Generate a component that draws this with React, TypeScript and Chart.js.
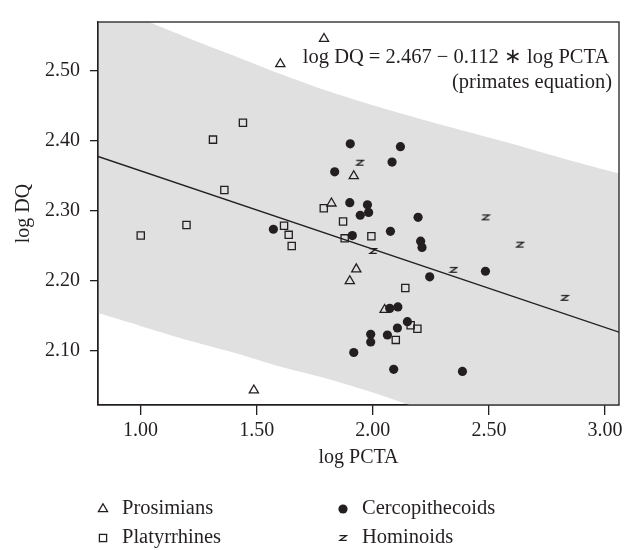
import React, { useEffect, useRef } from 'react';
import { Chart, registerables } from 'chart.js';

Chart.register(...registerables);

// ---- axes ----
const X_TICKS = [1.0, 1.5, 2.0, 2.5, 3.0];
const Y_TICKS = [2.1, 2.2, 2.3, 2.4, 2.5];
const X_MIN = 0.817;
const X_MAX = 3.06;
const Y_MIN = 2.022;
const Y_MAX = 2.569;

// ---- groups ----
const PROS_X = [1.790, 1.602, 1.918, 1.822, 1.929, 1.901, 2.051, 1.488];
const PROS_Y = [2.545, 2.509, 2.349, 2.310, 2.216, 2.199, 2.158, 2.043];

const PLAT_X = [1.441, 1.312, 1.361, 1.198, 1.001, 1.618, 1.638, 1.651, 1.789, 1.872, 1.879, 1.994, 2.140, 2.163, 2.192, 2.099];
const PLAT_Y = [2.425, 2.401, 2.329, 2.279, 2.264, 2.278, 2.265, 2.249, 2.303, 2.284, 2.260, 2.263, 2.189, 2.136, 2.131, 2.115];

const CERC_X = [1.903, 2.119, 2.083, 1.836, 1.901, 1.977, 1.982, 1.946, 2.195, 2.076, 1.912, 2.206, 2.212, 1.572, 2.245, 2.485, 2.073, 2.108, 2.149, 2.106, 2.063, 1.991, 1.991, 1.918, 2.090, 2.386];
const CERC_Y = [2.395, 2.391, 2.369, 2.355, 2.311, 2.308, 2.297, 2.293, 2.290, 2.270, 2.264, 2.256, 2.247, 2.273, 2.205, 2.213, 2.160, 2.162, 2.141, 2.132, 2.122, 2.123, 2.112, 2.097, 2.073, 2.070];

const HOMI_X = [1.944, 2.001, 2.486, 2.633, 2.347, 2.826];
const HOMI_Y = [2.368, 2.242, 2.290, 2.251, 2.215, 2.175];

// ---- regression line and prediction band ----
const LINE_X = [0.817, 3.06];
const LINE_Y = [2.377, 2.126];

const BAND_X = [0.8, 1.0, 1.2, 1.4, 1.6, 1.8, 2.0, 2.2, 2.4, 2.6, 2.8, 3.0, 3.1];
const BAND_UPPER = [2.602, 2.574, 2.547, 2.521, 2.495, 2.471, 2.450, 2.431, 2.413, 2.395, 2.376, 2.358, 2.349];
const BAND_LOWER = [2.155, 2.135, 2.115, 2.097, 2.077, 2.060, 2.040, 2.017, 1.994, 1.970, 1.945, 1.918, 1.905];

const EQ_LINE1 = 'log DQ = 2.467 \u2212 0.112 \u2217 log PCTA';
const EQ_LINE2 = '(primates equation)';
const X_TITLE = 'log PCTA';
const Y_TITLE = 'log DQ';
const LEGEND_LABELS = ['Prosimians', 'Platyrrhines', 'Cercopithecoids', 'Hominoids'];

const INK = '#231f20';
const BAND = '#e0e0e0';
const FONT_FAMILY = "'Liberation Serif', 'Times New Roman', serif";

const pts = (xs: number[], ys: number[]) => xs.map((x, i) => ({ x, y: ys[i] }));

function makeZ(): HTMLCanvasElement {
  const c = document.createElement('canvas');
  c.width = 10;
  c.height = 8;
  const g = c.getContext('2d')!;
  g.strokeStyle = INK;
  g.lineWidth = 1.3;
  g.lineJoin = 'miter';
  g.beginPath();
  g.moveTo(1.5, 1.6);
  g.lineTo(8.5, 1.6);
  g.lineTo(1.8, 6.4);
  g.lineTo(8.7, 6.4);
  g.stroke();
  return c;
}

export default function App() {
  const ref = useRef<HTMLCanvasElement | null>(null);

  useEffect(() => {
    if (!ref.current) return;
    const zImg = makeZ();
    const font = { family: FONT_FAMILY, size: 20 };

    const drawMarker = (ctx: CanvasRenderingContext2D, kind: string, x: number, y: number) => {
      ctx.save();
      ctx.strokeStyle = INK;
      ctx.fillStyle = INK;
      ctx.lineWidth = 1.3;
      if (kind === 'triangle') {
        const r = 5.3;
        ctx.beginPath();
        ctx.moveTo(x, y - r);
        ctx.lineTo(x + r * Math.sin((2 * Math.PI) / 3), y + r / 2);
        ctx.lineTo(x - r * Math.sin((2 * Math.PI) / 3), y + r / 2);
        ctx.closePath();
        ctx.stroke();
      } else if (kind === 'rect') {
        ctx.strokeRect(x - 3.6, y - 3.6, 7.2, 7.2);
      } else if (kind === 'circle') {
        ctx.beginPath();
        ctx.arc(x, y, 4.6, 0, Math.PI * 2);
        ctx.fill();
      } else {
        ctx.drawImage(zImg, x - zImg.width / 2, y - zImg.height / 2);
      }
      ctx.restore();
    };

    const decor = {
      id: 'decor',
      afterDatasetsDraw(chart: any) {
        const { ctx, chartArea } = chart;
        ctx.save();
        ctx.strokeStyle = INK;
        ctx.lineWidth = 1.3;
        ctx.strokeRect(chartArea.left, chartArea.top, chartArea.right - chartArea.left, chartArea.bottom - chartArea.top);
        ctx.fillStyle = INK;
        ctx.font = `20.5px ${FONT_FAMILY}`;
        ctx.textBaseline = 'middle';
        ctx.textAlign = 'center';
        ctx.fillText(EQ_LINE1, 456, 58);
        ctx.fillText(EQ_LINE2, 532, 83);
        ctx.restore();
      },
      afterDraw(chart: any) {
        const { ctx } = chart;
        ctx.save();
        ctx.fillStyle = INK;
        ctx.font = `20.5px ${FONT_FAMILY}`;
        ctx.textBaseline = 'middle';
        ctx.textAlign = 'left';
        const kinds = ['triangle', 'rect', 'circle', 'z'];
        const pos = [
          [103, 509],
          [103, 538],
          [343, 509],
          [343, 538],
        ];
        LEGEND_LABELS.forEach((lab, i) => {
          const [mx, my] = pos[i];
          drawMarker(ctx, kinds[i], mx, my);
          ctx.fillText(lab, mx + 19, my);
        });
        ctx.restore();
      },
    };

    const chart = new Chart(ref.current, {
      type: 'scatter',
      data: {
        datasets: [
          {
            type: 'line',
            label: 'upper',
            data: pts(BAND_X, BAND_UPPER),
            borderColor: 'transparent',
            borderWidth: 0,
            backgroundColor: BAND,
            pointRadius: 0,
            fill: '+1',
            tension: 0.3,
            order: 10,
          } as any,
          {
            type: 'line',
            label: 'lower',
            data: pts(BAND_X, BAND_LOWER),
            borderColor: 'transparent',
            borderWidth: 0,
            pointRadius: 0,
            fill: false,
            tension: 0.3,
            order: 10,
          } as any,
          {
            type: 'line',
            label: 'fit',
            data: pts(LINE_X, LINE_Y),
            borderColor: INK,
            borderWidth: 1.4,
            pointRadius: 0,
            fill: false,
            order: 9,
          } as any,
          {
            label: LEGEND_LABELS[0],
            data: pts(PROS_X, PROS_Y),
            pointStyle: 'triangle',
            pointRadius: 5.3,
            borderColor: INK,
            backgroundColor: 'transparent',
            borderWidth: 1.3,
            order: 1,
          },
          {
            label: LEGEND_LABELS[1],
            data: pts(PLAT_X, PLAT_Y),
            pointStyle: 'rect',
            pointRadius: 5.1,
            borderColor: INK,
            backgroundColor: 'transparent',
            borderWidth: 1.3,
            order: 1,
          },
          {
            label: LEGEND_LABELS[2],
            data: pts(CERC_X, CERC_Y),
            pointStyle: 'circle',
            pointRadius: 4.6,
            borderColor: INK,
            backgroundColor: INK,
            borderWidth: 0,
            order: 1,
          },
          {
            label: LEGEND_LABELS[3],
            data: pts(HOMI_X, HOMI_Y),
            pointStyle: zImg as any,
            pointRadius: 4,
            order: 1,
          },
        ],
      },
      options: {
        animation: false,
        responsive: false,
        events: [],
        layout: { padding: { top: 9, right: 16, bottom: 80, left: 0 } },
        plugins: { legend: { display: false }, tooltip: { enabled: false } },
        scales: {
          x: {
            type: 'linear',
            min: X_MIN,
            max: X_MAX,
            afterBuildTicks: (s: any) => {
              s.ticks = X_TICKS.map((v) => ({ value: v }));
            },
            afterFit: (s: any) => {
              s.height = 65;
            },
            ticks: {
              callback: (v: any) => Number(v).toFixed(2),
              font,
              color: INK,
              padding: 4,
              maxRotation: 0,
              autoSkip: false,
            },
            grid: { drawOnChartArea: false, tickLength: 10, color: INK, lineWidth: 1.3 },
            border: { display: true, color: INK, width: 1.3 },
            title: { display: true, text: X_TITLE, font, color: INK, padding: 0 },
          },
          y: {
            type: 'linear',
            min: Y_MIN,
            max: Y_MAX,
            afterBuildTicks: (s: any) => {
              s.ticks = Y_TICKS.map((v) => ({ value: v }));
            },
            afterFit: (s: any) => {
              s.width = 98;
            },
            ticks: {
              callback: (v: any) => Number(v).toFixed(2),
              font,
              color: INK,
              padding: 10,
              autoSkip: false,
            },
            grid: { drawOnChartArea: false, tickLength: 8, color: INK, lineWidth: 1.3 },
            border: { display: true, color: INK, width: 1.3 },
            title: { display: true, text: Y_TITLE, font, color: INK, padding: { top: 12, bottom: 0 } },
          },
        },
      },
      plugins: [decor],
    });

    return () => chart.destroy();
  }, []);

  return (
    <div style={{ position: 'fixed', left: 0, top: 0, width: 635, height: 550, background: '#fff' }}>
      <canvas ref={ref} width={635} height={550} style={{ display: 'block' }} />
    </div>
  );
}
